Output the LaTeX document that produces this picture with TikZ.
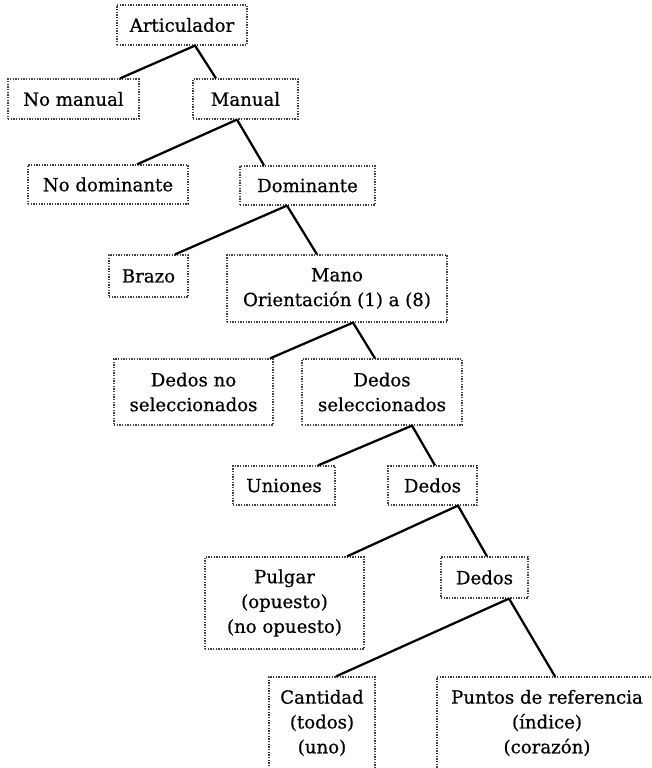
\documentclass[tikz,border=0pt]{standalone}
\usepackage{fontspec}
\setmainfont{DejaVu Serif}[FakeBold=0.6]
\usetikzlibrary{calc}
\tikzset{
  box/.style={draw=black!75, line width=0.9pt, dash pattern=on 0.9pt off 1.1pt, inner sep=0pt, align=center,
    font=\fontsize{13.6pt}{18.6pt}\selectfont, text=black},
  link/.style={line width=1.7pt, black}
}
\begin{document}
\begin{tikzpicture}[x=0.75pt,y=-0.75pt]
\useasboundingbox (0,0) rectangle (651,768);
\fill[white] (0,0) rectangle (651,768);
\clip (0,0) rectangle (651,768);
% nodes
\node[box, minimum width=130*0.75pt, minimum height=40*0.75pt] (art) at (182,25) {Articulador};
\node[box, minimum width=131*0.75pt, minimum height=40*0.75pt] (nom) at (73.5,99) {No manual};
\node[box, minimum width=105*0.75pt, minimum height=40*0.75pt] (man) at (245.5,99) {Manual};
\node[box, minimum width=160*0.75pt, minimum height=39*0.75pt] (nodom) at (108,184.5) {No dominante};
\node[box, minimum width=135*0.75pt, minimum height=39*0.75pt] (dom) at (307.5,185.5) {Dominante};
\node[box, minimum width=79*0.75pt, minimum height=42*0.75pt] (brazo) at (148.5,276) {Brazo};
\node[box, minimum width=220*0.75pt, minimum height=67*0.75pt] (mano) at (337,288.5) {Mano\\Orientación (1) a (8)};
\node[box, minimum width=159*0.75pt, minimum height=66*0.75pt] (dns) at (193.5,392) {Dedos no\\seleccionados};
\node[box, minimum width=160*0.75pt, minimum height=66*0.75pt] (dsel) at (382,392) {Dedos\\seleccionados};
\node[box, minimum width=102*0.75pt, minimum height=39*0.75pt] (uni) at (284,485.5) {Uniones};
\node[box, minimum width=89*0.75pt, minimum height=39*0.75pt] (dedos) at (432.5,485.5) {Dedos};
\node[box, minimum width=159*0.75pt, minimum height=92*0.75pt] (pulgar) at (284.5,603) {Pulgar\\(opuesto)\\(no opuesto)};
\node[box, minimum width=87*0.75pt, minimum height=41*0.75pt] (dedos2) at (484.5,577.5) {Dedos};
\node[box, minimum width=106*0.75pt, minimum height=92*0.75pt] (cant) at (322,723) {Cantidad\\(todos)\\(uno)};
\node[box, minimum width=220*0.75pt, minimum height=92*0.75pt] (puntos) at (547,723) {Puntos de referencia\\(índice)\\(corazón)};
% connectors
\draw[link] ($(art.south)+(13,0)$) -- ($(nom.north)+(46.5,0)$);
\draw[link] ($(art.south)+(13,0)$) -- ($(man.north)+(-29.5,0)$);
\draw[link] ($(man.south)+(-8.5,0)$) -- ($(nodom.north)+(29,0)$);
\draw[link] ($(man.south)+(-8.5,0)$) -- ($(dom.north)+(-43.5,0)$);
\draw[link] ($(dom.south)+(-20.5,0)$) -- ($(brazo.north)+(26.5,0)$);
\draw[link] ($(dom.south)+(-20.5,0)$) -- ($(mano.north)+(-20,0)$);
\draw[link] ($(mano.south)+(16,0)$) -- ($(dns.north)+(76.5,0)$);
\draw[link] ($(mano.south)+(16,0)$) -- ($(dsel.north)+(-7,0)$);
\draw[link] ($(dsel.south)+(30,0)$) -- ($(uni.north)+(34,0)$);
\draw[link] ($(dsel.south)+(30,0)$) -- ($(dedos.north)+(2.5,0)$);
\draw[link] ($(dedos.south)+(25.5,0)$) -- ($(pulgar.north)+(62.5,0)$);
\draw[link] ($(dedos.south)+(25.5,0)$) -- ($(dedos2.north)+(2.5,0)$);
\draw[link] ($(dedos2.south)+(24.5,0)$) -- ($(cant.north)+(14,0)$);
\draw[link] ($(dedos2.south)+(24.5,0)$) -- ($(puntos.north)+(8,0)$);
\end{tikzpicture}
\end{document}
